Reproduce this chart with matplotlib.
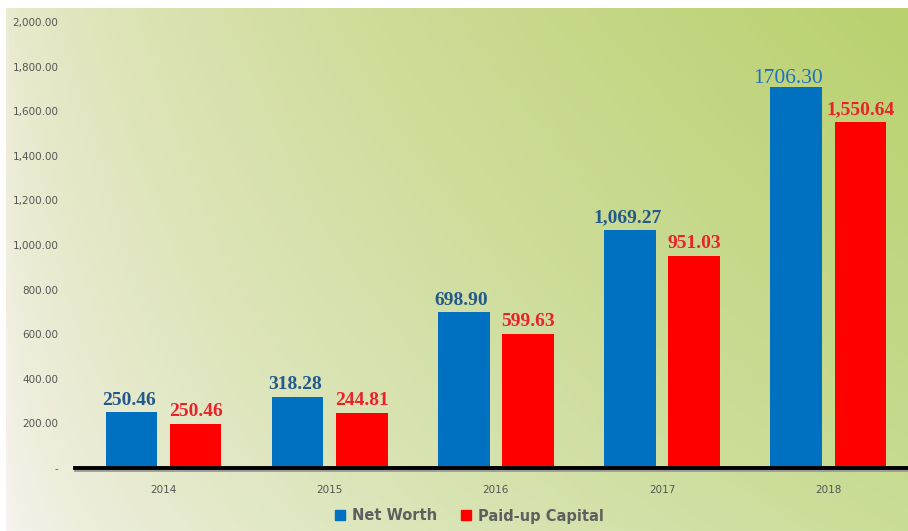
import numpy as np
import matplotlib
matplotlib.use("Agg")
import matplotlib.pyplot as plt
from matplotlib.colors import to_rgb
from matplotlib.ticker import FixedLocator, FuncFormatter
from matplotlib.lines import Line2D

years = ["2014", "2015", "2016", "2017", "2018"]
net_worth = [250.46, 318.28, 698.90, 1069.27, 1706.30]
paid_up = [197.0, 244.81, 599.63, 951.03, 1550.64]
net_worth_labels = ["250.46", "318.28", "698.90", "1,069.27", "1706.30"]
paid_up_labels = ["250.46", "244.81", "599.63", "951.03", "1,550.64"]
series_names = ["Net Worth", "Paid-up Capital"]
y_ticks = [0, 200, 400, 600, 800, 1000, 1200, 1400, 1600, 1800, 2000]

W, H = 908, 531
fig = plt.figure(figsize=(W / 100, H / 100), dpi=100)
fig.patch.set_facecolor("white")

# background gradient panel
bg = fig.add_axes([6 / W, 0, 1 - 6 / W, (H - 8) / H])
bg.set_axis_off()
tl = np.array(to_rgb("#ecebd3"))
tr = np.array(to_rgb("#b9d16f"))
bl = np.array(to_rgb("#f8f3f1"))
br = np.array(to_rgb("#cadd98"))
nx, ny = 300, 200
xs = np.linspace(0, 1, nx) ** 0.6
ys = np.linspace(0, 1, ny)[:, None] ** 0.8  # 0 bottom, 1 top
xs = xs[None, :]
img = ((1 - xs) * (1 - ys))[..., None] * bl + (xs * (1 - ys))[..., None] * br \
    + ((1 - xs) * ys)[..., None] * tl + (xs * ys)[..., None] * tr
bg.imshow(img, origin="lower", aspect="auto", extent=[0, 1, 0, 1])
bg.set_xlim(0, 1)
bg.set_ylim(0, 1)

# main axes
x0 = 75 / W
ax = fig.add_axes([x0, (H - 468) / H, 1 - x0, (468 - 22) / H])
ax.patch.set_alpha(0)
for s in ax.spines.values():
    s.set_visible(False)

x = np.arange(len(years))
bw = 0.31
off = 0.193
blue = "#0070c0"
red = "#ff0000"
ax.bar(x - off, net_worth, bw, color=blue, zorder=3)
ax.bar(x + off, paid_up, bw, color=red, zorder=3)

ax.set_xlim(-0.533, 4.48)
ax.set_ylim(0, 2000)

# baseline with shadow
ax.axhline(-8, color="#9a9a9a", lw=2, zorder=3, clip_on=False)
ax.axhline(0, color="black", lw=2.8, zorder=4, clip_on=False)

ax.yaxis.set_major_locator(FixedLocator(y_ticks))
ax.yaxis.set_major_formatter(FuncFormatter(lambda v, p: "-" if v == 0 else f"{v:,.2f}"))
ax.tick_params(axis="y", length=0, pad=12, labelsize=7.5, labelcolor="#555555")
ax.set_xticks(x)
ax.set_xticklabels(years)
ax.tick_params(axis="x", length=0, pad=12, labelsize=7.5, labelcolor="#555555")

for i in range(len(years)):
    if i == 4:
        ax.annotate(net_worth_labels[i], (x[i] - off, net_worth[i]), xytext=(-6, 3),
                    textcoords="offset points", ha="center", va="baseline",
                    fontsize=15.5, family="Liberation Serif", color="#1f6fbf", zorder=5)
    else:
        ax.annotate(net_worth_labels[i], (x[i] - off, net_worth[i]), xytext=(-2, 5.5),
                    textcoords="offset points", ha="center", va="baseline",
                    fontsize=14, family="Liberation Serif", weight="bold",
                    color="#245a8a", zorder=5)
    ax.annotate(paid_up_labels[i], (x[i] + off, paid_up[i]), xytext=(0, 6),
                textcoords="offset points", ha="center", va="baseline",
                fontsize=14, family="Liberation Serif", weight="bold",
                color="#e8242a", zorder=5)

# legend
handles = [Line2D([], [], marker="s", ls="", color=blue, markersize=7),
           Line2D([], [], marker="s", ls="", color=red, markersize=7)]
leg = fig.legend(handles, series_names, loc="center", bbox_to_anchor=(469 / W, 1 - 516 / H),
                 ncol=2, frameon=False, handlelength=0.8, handletextpad=0.4,
                 columnspacing=1.6, prop={"family": "DejaVu Sans", "weight": "bold", "size": 10.5})
for t in leg.get_texts():
    t.set_color("#5f5f5f")

fig.savefig("out.png", dpi=100)
